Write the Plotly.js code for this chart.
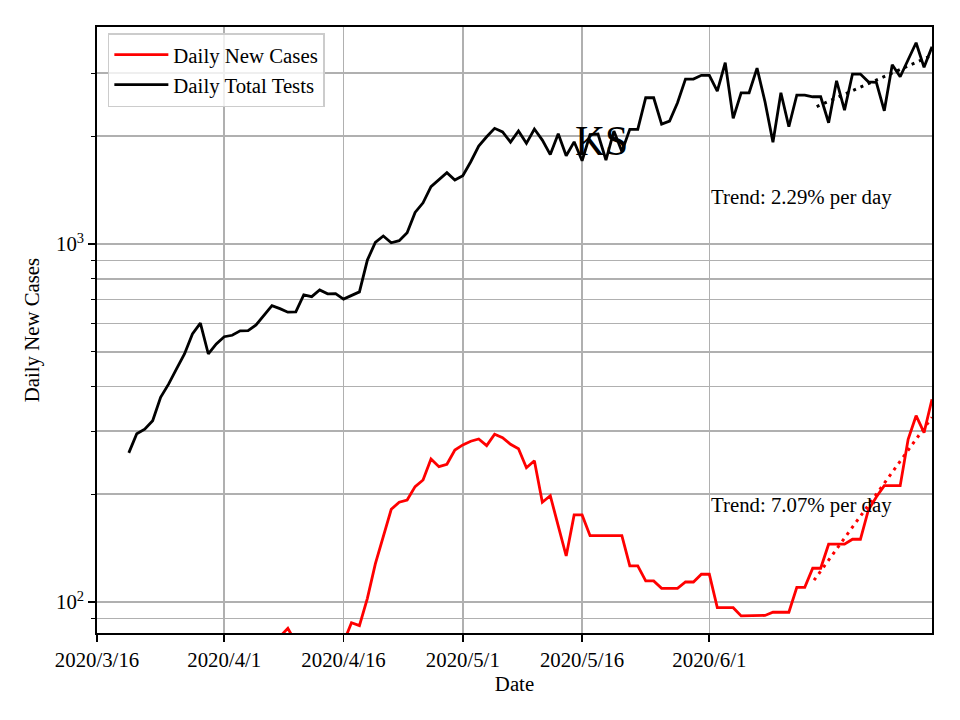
<!DOCTYPE html>
<html>
<head>
<meta charset="utf-8">
<script src="https://cdn.plot.ly/plotly-3.0.1.min.js"></script>
<style>html,body{margin:0;padding:0;background:#fff}#chart{width:960px;height:720px}</style>
</head>
<body>
<div id="chart"></div>
<script>
// Dates 2020-03-20 .. 2020-06-29 (one per day)
const startDate = '2020-03-20';
const numDays = 102;

const dailyTotalTests = [
  261, 295, 304, 321, 373, 406, 448, 493, 561, 601, 493, 526,
  551, 556, 572, 573, 594, 631, 673, 660, 645, 646, 721, 713, 744, 726, 727, 702, 719, 735,
  902, 1011, 1053, 1008, 1022, 1075, 1226, 1304, 1446, 1509, 1582, 1509,
  1552, 1698, 1878, 1994, 2105, 2056, 1927, 2069, 1911, 2096, 1952, 1778, 2032, 1764, 1930, 1709,
  2023, 2029, 1717, 2069, 1813, 2092, 2092, 2563, 2563, 2164, 2206, 2481, 2890, 2890, 2960,
  2960, 2675, 3210, 2245, 2646, 2646, 3102, 2497, 1924, 2646, 2127, 2608, 2608, 2579, 2579,
  2182, 2859, 2367, 2985, 2985, 2840, 2829, 2357, 3169, 2933, 3281, 3651, 3116, 3558
];

const dailyNewCases = [
  12, 15, 18, 22, 26, 30, 35, 38, 42, 45, 48, 52,
  55, 58, 60, 63, 66, 70, 74, 80, 84.4, 77, 70, 68, 72, 70, 74, 77, 87.5, 85.9,
  102.4, 127.7, 152.2, 181.5, 189.9, 192.7, 210.0, 219.2, 250.9, 238.8, 242.5, 265.9,
  274.6, 281.2, 285.4, 273.4, 294.2, 287.8, 275.8, 268.1, 237.2, 248.1, 189.9, 198.1, 163.1, 134.4,
  175.0, 175.0, 153.2, 153.2, 153.2, 153.2, 153.2, 126.1, 126.1, 114.5, 114.5, 109.2, 109.2, 109.2,
  113.7, 113.7, 119.5,
  119.5, 96.4, 96.4, 96.4, 91.4, 91.5, 91.6, 91.7, 93.6, 93.6, 93.6, 109.9, 109.9, 124.2, 124.2,
  145.0, 145.0, 145.0, 149.7, 149.7, 180.7, 196.5, 211.3, 211.3, 211.3, 284.8, 331.4, 297.2, 368.3
];

// Trend line endpoints
const trendTestsX = ['2020-06-14 12:00', '2020-06-29'];
const trendTestsY = [2420, 3370];
const trendCasesX = ['2020-06-14 04:00', '2020-06-29'];
const trendCasesY = [115, 328];

const xTickVals = ['2020-03-16', '2020-04-01', '2020-04-16', '2020-05-01', '2020-05-16', '2020-06-01'];
const xTickText = ['2020/3/16', '2020/4/1', '2020/4/16', '2020/5/1', '2020/5/16', '2020/6/1'];
const yTickVals = [100, 1000];
const yTickText = ['10<sup>2</sup>', '10<sup>3</sup>'];
const yMinorVals = [90, 200, 300, 400, 500, 600, 700, 800, 900, 2000, 3000];

const titleText = 'KS';
const trendTestsText = 'Trend: 2.29% per day';
const trendCasesText = 'Trend: 7.07% per day';

function buildDates(start, n) {
  const out = [];
  const d0 = new Date(start + 'T00:00:00Z');
  for (let i = 0; i < n; i++) {
    const d = new Date(d0.getTime() + i * 86400000);
    out.push(d.toISOString().slice(0, 10));
  }
  return out;
}
const dates = buildDates(startDate, numDays);

const FONT = 'Liberation Serif, Times New Roman, serif';

const traces = [
  {x: dates, y: dailyNewCases, type: 'scatter', mode: 'lines', name: 'Daily New Cases',
   line: {color: '#ff0000', width: 2.8}},
  {x: dates, y: dailyTotalTests, type: 'scatter', mode: 'lines', name: 'Daily Total Tests',
   line: {color: '#000000', width: 2.8}},
  {x: trendCasesX, y: trendCasesY, type: 'scatter', mode: 'lines', showlegend: false,
   line: {color: '#ff0000', width: 3, dash: '3px,5px'}},
  {x: trendTestsX, y: trendTestsY, type: 'scatter', mode: 'lines', showlegend: false,
   line: {color: '#000000', width: 3, dash: '3px,5px'}}
];

const layout = {
  width: 960, height: 720,
  margin: {l: 97, r: 28, t: 27, b: 87, pad: 0},
  paper_bgcolor: '#ffffff', plot_bgcolor: '#ffffff',
  font: {family: FONT, size: 20.8, color: '#000'},
  showlegend: true,
  legend: {x: 0.013, y: 0.99, xanchor: 'left', yanchor: 'top',
           bgcolor: 'rgba(255,255,255,0.8)', bordercolor: '#cccccc', borderwidth: 1.5,
           font: {family: FONT, size: 20.8, color: '#000'}, itemwidth: 54, tracegroupgap: 0},
  xaxis: {
    type: 'date', range: ['2020-03-16', '2020-06-29'],
    tickmode: 'array', tickvals: xTickVals, ticktext: xTickText,
    showgrid: true, gridcolor: '#b0b0b0', gridwidth: 1.6,
    showline: true, linecolor: '#000', linewidth: 1.7, mirror: true,
    ticks: 'outside', ticklen: 7, tickwidth: 1.7, tickcolor: '#000',
    tickfont: {family: FONT, size: 20.8, color: '#000'},
    title: {text: 'Date', font: {family: FONT, size: 20.8, color: '#000'}, standoff: 7},
    zeroline: false
  },
  yaxis: {
    type: 'log', range: [Math.log10(81.9), Math.log10(4040)],
    tickmode: 'array', tickvals: yTickVals, ticktext: yTickText,
    showgrid: true, gridcolor: '#b0b0b0', gridwidth: 1.6,
    showline: true, linecolor: '#000', linewidth: 1.7, mirror: true,
    ticks: 'outside', ticklen: 7, tickwidth: 1.7, tickcolor: '#000',
    tickfont: {family: FONT, size: 20.8, color: '#000'},
    minor: {tickmode: 'array', tickvals: yMinorVals, ticks: 'outside', ticklen: 4,
            tickwidth: 1.2, tickcolor: '#000', showgrid: true, gridcolor: '#b0b0b0', gridwidth: 1.6},
    title: {text: 'Daily New Cases', font: {family: FONT, size: 20.8, color: '#000'}, standoff: 11},
    zeroline: false
  },
  annotations: [
    {text: titleText, xref: 'paper', yref: 'paper', x: 0.6036, y: 0.812,
     xanchor: 'center', yanchor: 'middle', showarrow: false,
     font: {family: FONT, size: 41.7, color: '#000'}},
    {text: trendTestsText, xref: 'paper', yref: 'paper', x: 0.733, y: 0.7195,
     xanchor: 'left', yanchor: 'middle', showarrow: false,
     font: {family: FONT, size: 20.8, color: '#000'}},
    {text: trendCasesText, xref: 'paper', yref: 'paper', x: 0.733, y: 0.2112,
     xanchor: 'left', yanchor: 'middle', showarrow: false,
     font: {family: FONT, size: 20.8, color: '#000'}}
  ]
};

Plotly.newPlot('chart', traces, layout, {staticPlot: true, displayModeBar: false});
</script>
</body>
</html>
